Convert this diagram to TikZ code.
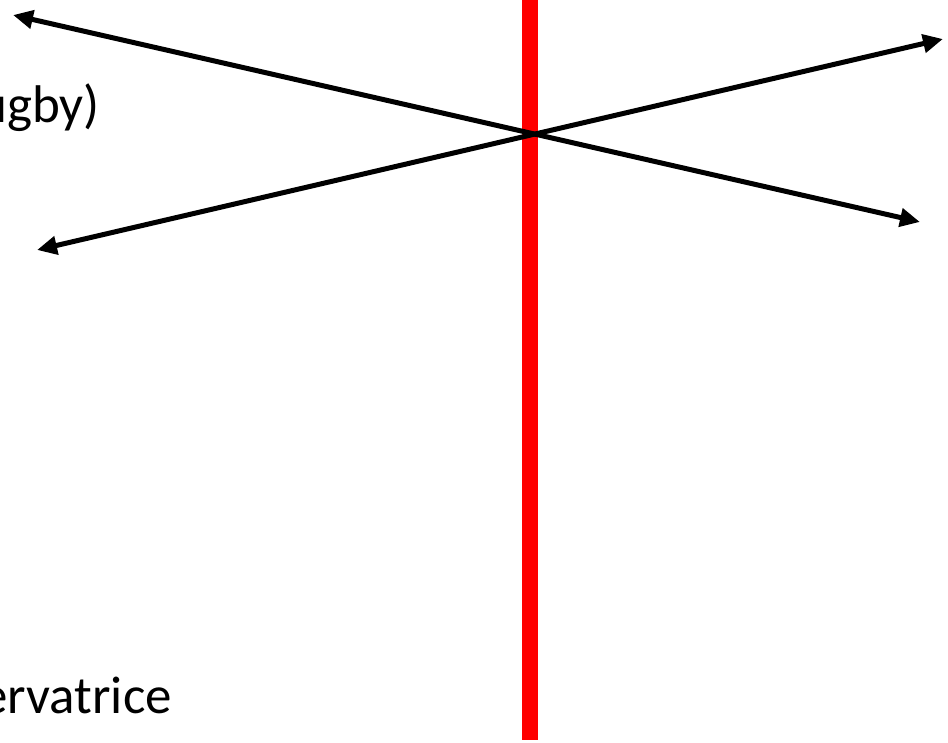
\documentclass[tikz,border=0pt]{standalone}
\usepackage{fontspec}
\setmainfont{Carlito}
\usetikzlibrary{arrows.meta}
\tikzset{
  dblarrow/.style={line width=5pt, black, {Triangle[length=20pt,width=18pt]}-{Triangle[length=20pt,width=18pt]}},
  redbar/.style={line width=16pt, red},
  lbl/.style={inner sep=0pt, font=\fontsize{53}{64}\selectfont}
}
\begin{document}
\begin{tikzpicture}[x=1pt,y=-1pt]
\useasboundingbox (0,0) rectangle (948,742);
\coordinate (rtop) at (530,0);
\coordinate (rbot) at (530,740);
\draw[redbar] (rtop) -- (rbot);
\coordinate (a1) at (13,15);
\coordinate (b1) at (920,222);
\coordinate (a2) at (37,250);
\coordinate (b2) at (943,39);
\draw[dblarrow] (a1) -- (b1);
\draw[dblarrow] (a2) -- (b2);
\node[lbl, anchor=base east] (t1) at (100,122) {ugby)};
\node[lbl, anchor=base east] (t2) at (172,713) {ervatrice};
\end{tikzpicture}
\end{document}
